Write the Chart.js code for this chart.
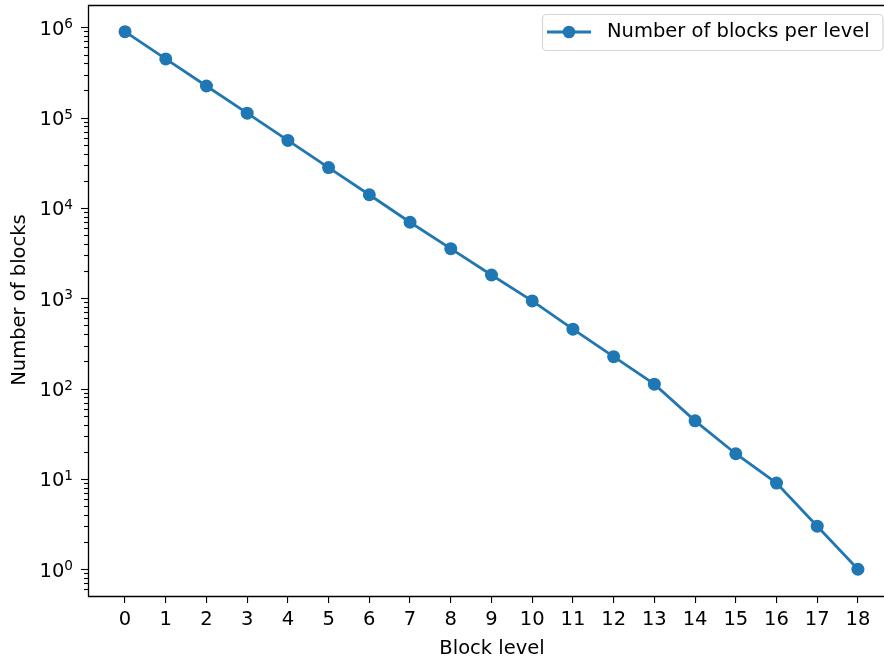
<!DOCTYPE html>
<html>
<head>
<meta charset="utf-8">
<script src="https://cdn.jsdelivr.net/npm/chart.js@4.4.1/dist/chart.umd.min.js"></script>
<style>
    html, body { margin: 0; padding: 0; background: #fff; overflow: hidden; }
    #wrap { width: 884px; height: 660px; }
    canvas { display: block; width: 884px; height: 660px; }
</style>
</head>
<body>
<div id="wrap"><canvas id="levelChart" width="884" height="660"></canvas></div>
<script>
const levels = [0, 1, 2, 3, 4, 5, 6, 7, 8, 9, 10, 11, 12, 13, 14, 15, 16, 17, 18];
const blockCounts = [895000, 447000, 224000, 112000, 56000, 28000, 14000, 6950, 3540, 1810, 935, 455, 226, 112, 44, 19, 9, 3, 1];
const yDecades = [0, 1, 2, 3, 4, 5, 6];
const seriesLabel = "Number of blocks per level";
const xTitle = "Block level";
const yTitle = "Number of blocks";

const FONT = "DejaVu Sans";
const FS = 19.5;
const BLUE = "#1f77b4";

// spines (the right one is cropped off in the original), log ticks, titles, legend
const decorPlugin = {
    id: "decor",
    afterDraw(chart) {
        const ctx = chart.ctx;
        const area = chart.chartArea;
        const y = chart.scales.y;
        ctx.save();
        ctx.strokeStyle = "#000";
        ctx.lineWidth = 1.3;
        ctx.beginPath();
        ctx.moveTo(chart.width, area.top + 0.5);
        ctx.lineTo(area.left + 0.5, area.top + 0.5);
        ctx.lineTo(area.left + 0.5, area.bottom + 0.5);
        ctx.lineTo(chart.width, area.bottom + 0.5);
        ctx.stroke();

        // y ticks
        ctx.lineWidth = 1.1;
        yDecades.forEach(function (d) {
            for (let m = 1; m <= 9; m++) {
                const v = m * Math.pow(10, d);
                if (v < y.min || v > y.max) continue;
                const py = Math.round(y.getPixelForValue(v)) + 0.5;
                const len = m === 1 ? 7 : 4;
                ctx.beginPath();
                ctx.moveTo(area.left - len, py);
                ctx.lineTo(area.left, py);
                ctx.stroke();
            }
            if (d === 0) {
                for (let m = 2; m <= 9; m++) {
                    const v = m / 10;
                    if (v < y.min) continue;
                    const py = Math.round(y.getPixelForValue(v)) + 0.5;
                    ctx.beginPath();
                    ctx.moveTo(area.left - 4, py);
                    ctx.lineTo(area.left, py);
                    ctx.stroke();
                }
            }
            const py = y.getPixelForValue(Math.pow(10, d));
            ctx.fillStyle = "#000";
            ctx.textBaseline = "alphabetic";
            ctx.textAlign = "left";
            ctx.font = "13.6px '" + FONT + "'";
            const exp = String(d);
            const expW = ctx.measureText(exp).width;
            ctx.font = FS + "px '" + FONT + "'";
            const baseW = ctx.measureText("10").width;
            const right = 73;
            ctx.fillText("10", right - expW - baseW, py + 7.5);
            ctx.font = "13.6px '" + FONT + "'";
            ctx.fillText(exp, right - expW, py + 1);
        });

        // axis titles
        ctx.fillStyle = "#000";
        ctx.font = FS + "px '" + FONT + "'";
        ctx.textAlign = "center";
        ctx.textBaseline = "alphabetic";
        ctx.fillText(xTitle, 492, 654);
        ctx.save();
        ctx.translate(20, 300);
        ctx.rotate(-Math.PI / 2);
        ctx.textBaseline = "middle";
        ctx.fillText(yTitle, 0, 0);
        ctx.restore();

        // legend
        const lx = 542.5, ly = 14.5, lw = 340.5, lh = 36;
        const r = 4;
        ctx.beginPath();
        ctx.moveTo(lx + r, ly);
        ctx.lineTo(lx + lw - r, ly);
        ctx.arcTo(lx + lw, ly, lx + lw, ly + r, r);
        ctx.lineTo(lx + lw, ly + lh - r);
        ctx.arcTo(lx + lw, ly + lh, lx + lw - r, ly + lh, r);
        ctx.lineTo(lx + r, ly + lh);
        ctx.arcTo(lx, ly + lh, lx, ly + lh - r, r);
        ctx.lineTo(lx, ly + r);
        ctx.arcTo(lx, ly, lx + r, ly, r);
        ctx.closePath();
        ctx.fillStyle = "rgba(255,255,255,0.8)";
        ctx.fill();
        ctx.strokeStyle = "#d6d6d6";
        ctx.lineWidth = 1.2;
        ctx.stroke();

        const midY = 32;
        ctx.strokeStyle = BLUE;
        ctx.lineWidth = 2.8;
        ctx.beginPath();
        ctx.moveTo(547, midY);
        ctx.lineTo(591, midY);
        ctx.stroke();
        ctx.fillStyle = BLUE;
        ctx.beginPath();
        ctx.arc(569, midY, 6.3, 0, Math.PI * 2);
        ctx.fill();
        ctx.fillStyle = "#000";
        ctx.textAlign = "left";
        ctx.textBaseline = "middle";
        ctx.font = FS + "px '" + FONT + "'";
        ctx.fillText(chart.data.datasets[0].label, 607, midY);
        ctx.restore();
    }
};

const ctx = document.getElementById("levelChart").getContext("2d");
const levelChart = new Chart(ctx, {
    type: "line",
    data: {
        datasets: [{
            label: seriesLabel,
            data: levels.map((lv, i) => ({ x: lv, y: blockCounts[i] })),
            borderColor: BLUE,
            backgroundColor: BLUE,
            borderWidth: 2.8,
            pointRadius: 6.5,
            pointHoverRadius: 6.5,
            pointBorderWidth: 0,
            tension: 0,
            fill: false
        }]
    },
    options: {
        responsive: false,
        animation: false,
        devicePixelRatio: 1,
        layout: { autoPadding: false, padding: { top: 5, left: 0, right: 0, bottom: 0 } },
        plugins: {
            legend: { display: false },
            tooltip: { enabled: false }
        },
        scales: {
            x: {
                type: "linear",
                min: -0.909,
                max: 18.64,
                afterBuildTicks: function (scale) {
                    scale.ticks = levels.map(v => ({ value: v }));
                },
                afterFit: function (scale) {
                    scale.height = 64;
                    scale.paddingLeft = 0;
                    scale.paddingRight = 0;
                },
                grid: {
                    drawOnChartArea: false,
                    drawTicks: true,
                    tickLength: 7,
                    color: "#000",
                    lineWidth: 1.1
                },
                border: { display: false },
                ticks: {
                    autoSkip: false,
                    maxRotation: 0,
                    padding: 5,
                    color: "#000",
                    font: { family: FONT, size: FS },
                    callback: v => String(v)
                }
            },
            y: {
                type: "logarithmic",
                min: Math.pow(10, -0.296),
                max: Math.pow(10, 6.247),
                afterFit: function (scale) { scale.width = 88; },
                grid: { display: false },
                border: { display: false },
                ticks: { display: false }
            }
        }
    },
    plugins: [decorPlugin]
});
</script>
</body>
</html>
